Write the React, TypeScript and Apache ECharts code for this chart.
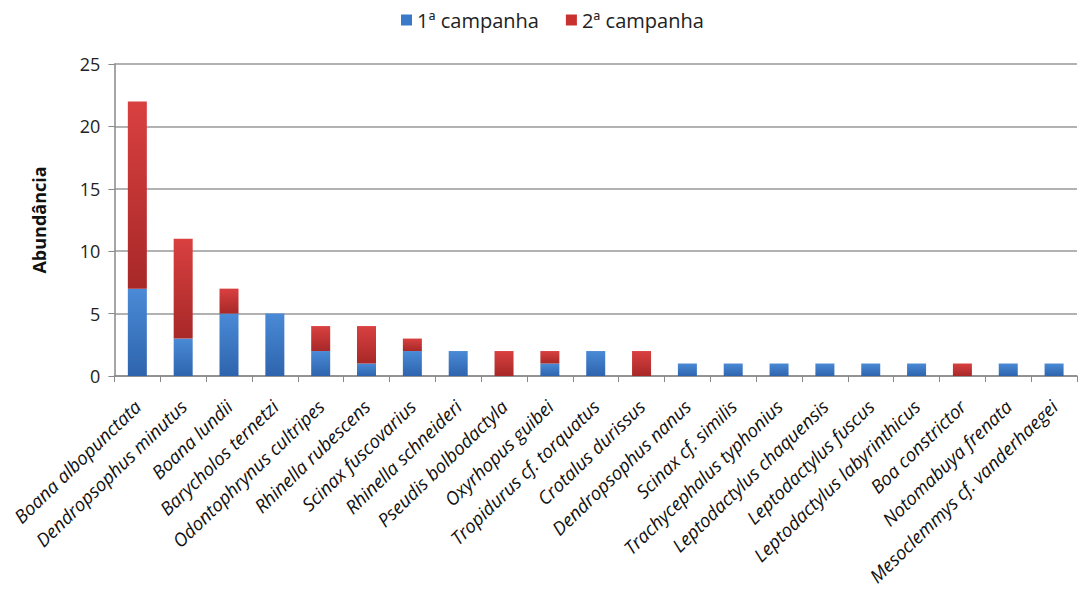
import React, { useEffect, useRef } from "react";
import * as echarts from "echarts";

const species = [
  "Boana albopunctata",
  "Dendropsophus minutus",
  "Boana lundii",
  "Barycholos ternetzi",
  "Odontophrynus cultripes",
  "Rhinella rubescens",
  "Scinax fuscovarius",
  "Rhinella schneideri",
  "Pseudis bolbodactyla",
  "Oxyrhopus guibei",
  "Tropidurus cf. torquatus",
  "Crotalus durissus",
  "Dendropsophus nanus",
  "Scinax cf. similis",
  "Trachycephalus typhonius",
  "Leptodactylus chaquensis",
  "Leptodactylus fuscus",
  "Leptodactylus labyrinthicus",
  "Boa constrictor",
  "Notomabuya frenata",
  "Mesoclemmys cf. vanderhaegei",
];
const campanha1 = [7, 3, 5, 5, 2, 1, 2, 2, 0, 1, 2, 0, 1, 1, 1, 1, 1, 1, 0, 1, 1];
const campanha2 = [15, 8, 2, 0, 2, 3, 1, 0, 2, 1, 0, 2, 0, 0, 0, 0, 0, 0, 1, 0, 0];
const seriesNames = ["1ª campanha", "2ª campanha"];

export default function App() {
  const ref = useRef<HTMLDivElement>(null);
  useEffect(() => {
    if (!ref.current) return;
    const chart = echarts.init(ref.current, undefined, { renderer: "svg" });
    const blue = new echarts.graphic.LinearGradient(0, 0, 0, 1, [
      { offset: 0, color: "#4a8ad6" },
      { offset: 1, color: "#2e64ad" },
    ]);
    const red = new echarts.graphic.LinearGradient(0, 0, 0, 1, [
      { offset: 0, color: "#d94040" },
      { offset: 1, color: "#a82828" },
    ]);
    chart.setOption({
      animation: false,
      textStyle: { fontFamily: "Open Sans, DejaVu Sans, sans-serif" },
      legend: {
        top: -3,
        left: 388,
        itemWidth: 11,
        itemHeight: 11,
        itemGap: 27,
        icon: "rect",
        textStyle: { fontSize: 20, color: "#222" },
        data: [
          { name: seriesNames[0], itemStyle: { color: "#3a78c9" } },
          { name: seriesNames[1], itemStyle: { color: "#c93131" } },
        ],
      },
      grid: { left: 106, right: 2, top: 56, bottom: 212 },
      xAxis: {
        type: "category",
        data: species,
        axisLine: { lineStyle: { color: "#888", width: 1.5 } },
        axisTick: { show: true, alignWithLabel: false, length: 6, lineStyle: { color: "#888" } },
        axisLabel: {
          rotate: 44,
          interval: 0,
          fontSize: 18.5,
          fontStyle: "italic",
          color: "#111",
          margin: 27,
        },
      },
      yAxis: {
        type: "value",
        min: 0,
        max: 25,
        interval: 5,
        name: "Abundância",
        nameLocation: "middle",
        nameGap: 66,
        nameTextStyle: { fontSize: 18, fontWeight: "bold", color: "#111" },
        axisLine: { show: true, lineStyle: { color: "#888", width: 1.5 } },
        axisTick: { show: true, length: 6, lineStyle: { color: "#888" } },
        axisLabel: { fontSize: 18, color: "#222", margin: 14 },
        splitLine: { lineStyle: { color: "#999", width: 1.5 } },
      },
      series: [
        {
          name: seriesNames[0],
          type: "bar",
          stack: "total",
          barWidth: 19,
          data: campanha1,
          itemStyle: { color: blue },
        },
        {
          name: seriesNames[1],
          type: "bar",
          stack: "total",
          barWidth: 19,
          data: campanha2,
          itemStyle: { color: red },
        },
      ],
    });
    return () => chart.dispose();
  }, []);
  return <div ref={ref} style={{ width: 1071, height: 580 }} />;
}
